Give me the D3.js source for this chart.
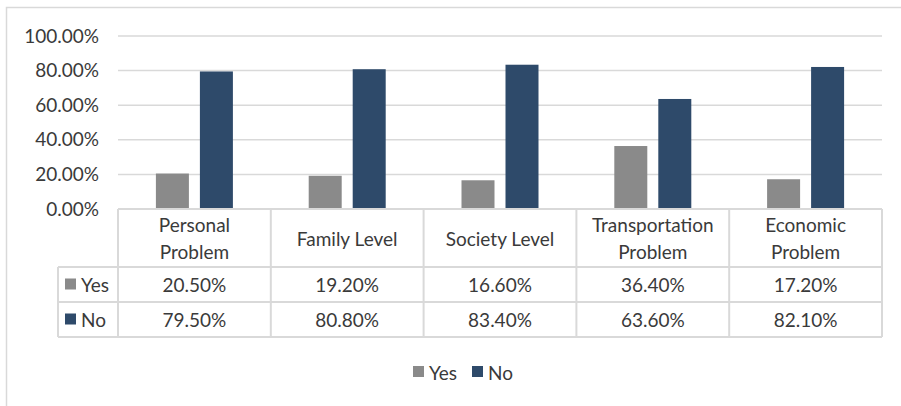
<!DOCTYPE html>
<html>
<head>
<meta charset="utf-8">
<script src="https://cdn.jsdelivr.net/npm/d3@7"></script>
<style>
  html, body { margin: 0; padding: 0; background: #fff; }
  svg { display: block; font-family: Lato, "Open Sans", sans-serif; }
</style>
</head>
<body>
<svg id="chart" width="901" height="406"></svg>
<script>
// Survey categories (header lines of the data table)
const categories = [
  ["Personal", "Problem"],
  ["Family Level"],
  ["Society Level"],
  ["Transportation", "Problem"],
  ["Economic", "Problem"]
];
const seriesNames = ["Yes", "No"];
const yesValues = [0.205, 0.192, 0.166, 0.364, 0.172];
const noValues  = [0.795, 0.808, 0.834, 0.636, 0.821];
const yTicks = [0, 0.2, 0.4, 0.6, 0.8, 1.0];
const seriesColors = ["#8a8a8a", "#2e4a6a"];

const values = [yesValues, noValues];
const catKeys = categories.map(c => c.join(" "));

const svg = d3.select("#chart");
const textColor = "#3a3a3a";
const lineColor = "#d9d9d9";
const fontSize = 19;

// Plot frame
const plot = { left: 118, right: 882, top: 36, bottom: 209 };
const table = { keyLeft: 58, headerBottom: 267, rowH: 35 };

// Outer chart border (left and top edges visible)
svg.append("path")
  .attr("d", "M6.5,420 V7.5 H920")
  .attr("fill", "none").attr("stroke", lineColor).attr("stroke-width", 1.5);

const x0 = d3.scaleBand().domain(catKeys).range([plot.left, plot.right]).padding(0);
const groupW = 77;
const x1 = d3.scaleBand().domain(seriesNames).range([0, groupW]).paddingInner(0.25).paddingOuter(0);
const y = d3.scaleLinear().domain([0, 1]).range([plot.bottom, plot.top]);

// Gridlines
svg.append("g").selectAll("line").data(yTicks.filter(t => t > 0)).join("line")
  .attr("x1", plot.left).attr("x2", plot.right)
  .attr("y1", d => y(d)).attr("y2", d => y(d))
  .attr("stroke", lineColor).attr("stroke-width", 1.5);

// Y axis labels
const yAxis = d3.axisLeft(y).tickValues(yTicks).tickFormat(d3.format(".2%")).tickSize(0).tickPadding(19);
const yg = svg.append("g").attr("transform", `translate(${plot.left},0)`).call(yAxis);
yg.select(".domain").remove();
yg.selectAll("text").attr("fill", textColor).attr("font-size", fontSize)
  .attr("font-family", "Lato, 'Open Sans', sans-serif");

// Bars
const groups = svg.append("g").selectAll("g").data(catKeys).join("g")
  .attr("transform", d => `translate(${x0(d) + (x0.bandwidth() - groupW) / 2},0)`);
groups.selectAll("rect")
  .data((d, i) => seriesNames.map((s, j) => ({ s, j, v: values[j][i] })))
  .join("rect")
  .attr("x", d => x1(d.s))
  .attr("width", x1.bandwidth())
  .attr("y", d => y(d.v))
  .attr("height", d => y(0) - y(d.v))
  .attr("fill", d => seriesColors[d.j]);

// Data table
const tg = svg.append("g");
const rowYs = [table.headerBottom, table.headerBottom + table.rowH, table.headerBottom + 2 * table.rowH];
const stroke = sel => sel.attr("stroke", lineColor).attr("stroke-width", 2);

// horizontal lines
tg.append("line").attr("x1", plot.left).attr("x2", plot.right).attr("y1", plot.bottom).attr("y2", plot.bottom).call(stroke);
rowYs.forEach(ry => {
  tg.append("line").attr("x1", table.keyLeft).attr("x2", plot.right).attr("y1", ry).attr("y2", ry).call(stroke);
});
// vertical lines
const bounds = catKeys.map(k => x0(k)).concat([plot.right]);
bounds.forEach(bx => {
  tg.append("line").attr("x1", bx).attr("x2", bx).attr("y1", plot.bottom).attr("y2", rowYs[2]).call(stroke);
});
tg.append("line").attr("x1", table.keyLeft).attr("x2", table.keyLeft).attr("y1", rowYs[0]).attr("y2", rowYs[2]).call(stroke);

// header text
categories.forEach((lines, i) => {
  const cx = x0(catKeys[i]) + x0.bandwidth() / 2;
  const cy = (plot.bottom + table.headerBottom) / 2;
  const lh = 27;
  const t = tg.append("text").attr("text-anchor", "middle").attr("fill", textColor).attr("font-size", fontSize);
  lines.forEach((ln, k) => {
    t.append("tspan").attr("x", cx)
      .attr("y", cy + (k - (lines.length - 1) / 2) * lh)
      .attr("dominant-baseline", "central").text(ln);
  });
});

// value rows
const pct = d3.format(".2%");
seriesNames.forEach((s, j) => {
  const cy = rowYs[j] + table.rowH / 2;
  tg.append("rect").attr("x", 65).attr("y", cy - 6).attr("width", 11).attr("height", 11).attr("fill", seriesColors[j]);
  tg.append("text").attr("x", 81).attr("y", cy).attr("dominant-baseline", "central")
    .attr("fill", textColor).attr("font-size", fontSize).text(s);
  values[j].forEach((v, i) => {
    tg.append("text").attr("x", x0(catKeys[i]) + x0.bandwidth() / 2).attr("y", cy)
      .attr("text-anchor", "middle").attr("dominant-baseline", "central")
      .attr("fill", textColor).attr("font-size", fontSize).text(pct(v));
  });
});

// Legend
const lg = svg.append("g").attr("transform", "translate(0,372)");
const legendX = [413, 472];
seriesNames.forEach((s, j) => {
  lg.append("rect").attr("x", legendX[j]).attr("y", -6).attr("width", 11).attr("height", 11).attr("fill", seriesColors[j]);
  lg.append("text").attr("x", legendX[j] + 16).attr("y", 0).attr("dominant-baseline", "central")
    .attr("fill", textColor).attr("font-size", fontSize).text(s);
});
</script>
</body>
</html>
